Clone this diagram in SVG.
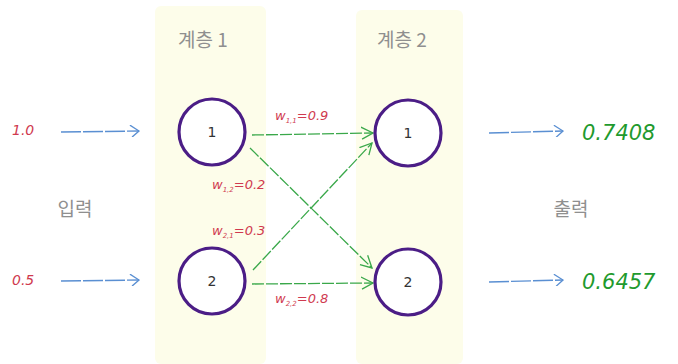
<svg xmlns="http://www.w3.org/2000/svg" width="678" height="364" viewBox="0 0 678 364">
<style>
.panel{fill:#fdfdea}
.layer{font-family:"Noto Sans CJK KR","Noto Sans",sans-serif;font-size:19px;fill:#8f8f8f;text-anchor:middle}
.node circle{fill:#fff;stroke:#4b1d86;stroke-width:3.2}
.node text{font-family:"DejaVu Sans",sans-serif;font-size:14px;fill:#333;text-anchor:middle}
.in{font-family:"DejaVu Sans",sans-serif;font-style:italic;font-size:14px;fill:#d03a4f}
.out{font-family:"DejaVu Sans",sans-serif;font-style:italic;font-size:21px;fill:#1f9a2e}
.w{font-family:"DejaVu Sans",sans-serif;font-style:italic;font-size:13px;fill:#d03a4f}
.w tspan.s{font-size:7px}
.blue{stroke:#5a8fd2;stroke-width:1.4;fill:none;stroke-dasharray:20 2}
.green{stroke:#3aa84a;stroke-width:1.3;fill:none;stroke-dasharray:12 2}
</style>
<defs>
<marker id="ab" markerWidth="12" markerHeight="12" refX="10" refY="6" orient="auto" markerUnits="userSpaceOnUse">
<path d="M1,0 L10,6 L3,12" fill="none" stroke="#5a8fd2" stroke-width="1.3"/>
</marker>
<marker id="ag" markerWidth="14" markerHeight="14" refX="12" refY="7" orient="auto" markerUnits="userSpaceOnUse">
<path d="M0,1 L12,7 L1,13" fill="none" stroke="#3aa84a" stroke-width="1.3"/>
</marker>
</defs>
<rect width="678" height="364" fill="#fff"/>
<rect class="panel" x="155" y="6" width="111" height="358" rx="6"/>
<rect class="panel" x="356" y="10" width="107" height="354" rx="6"/>
<text class="layer" x="203" y="47">계층 1</text>
<text class="layer" x="402" y="47">계층 2</text>
<text class="layer" x="75" y="216">입력</text>
<text class="layer" x="571" y="216">출력</text>
<g id="connectors">
<line class="blue" x1="61" y1="132" x2="139" y2="131" marker-end="url(#ab)"/>
<line class="blue" x1="61" y1="281" x2="139" y2="280" marker-end="url(#ab)"/>
<line class="blue" x1="489" y1="133" x2="563" y2="131" marker-end="url(#ab)"/>
<line class="blue" x1="489" y1="282" x2="563" y2="280" marker-end="url(#ab)"/>
<line class="green" x1="252" y1="135" x2="373" y2="133" marker-end="url(#ag)"/>
<line class="green" x1="250" y1="148" x2="372" y2="268" marker-end="url(#ag)"/>
<line class="green" x1="253" y1="270" x2="372" y2="143" marker-end="url(#ag)"/>
<line class="green" x1="252" y1="284" x2="373" y2="283" marker-end="url(#ag)"/>
</g>
<g id="in1"><text class="in" x="12" y="135">1.0</text></g>
<g id="in2"><text class="in" x="12" y="285">0.5</text></g>
<g id="out1"><text class="out" x="582" y="140">0.7408</text></g>
<g id="out2"><text class="out" x="582" y="289">0.6457</text></g>
<g id="n11" class="node"><circle cx="212" cy="132" r="33"/><text x="212" y="137">1</text></g>
<g id="n12" class="node"><circle cx="212" cy="281" r="33"/><text x="212" y="286">2</text></g>
<g id="n21" class="node"><circle cx="408" cy="133" r="33"/><text x="408" y="138">1</text></g>
<g id="n22" class="node"><circle cx="408" cy="282" r="33"/><text x="408" y="287">2</text></g>
<text class="w" x="275" y="120">w<tspan class="s" dy="3">1,1</tspan><tspan dy="-3">=0.9</tspan></text>
<text class="w" x="212" y="189">w<tspan class="s" dy="3">1,2</tspan><tspan dy="-3">=0.2</tspan></text>
<text class="w" x="212" y="235">w<tspan class="s" dy="3">2,1</tspan><tspan dy="-3">=0.3</tspan></text>
<text class="w" x="275" y="303">w<tspan class="s" dy="3">2,2</tspan><tspan dy="-3">=0.8</tspan></text>
</svg>
